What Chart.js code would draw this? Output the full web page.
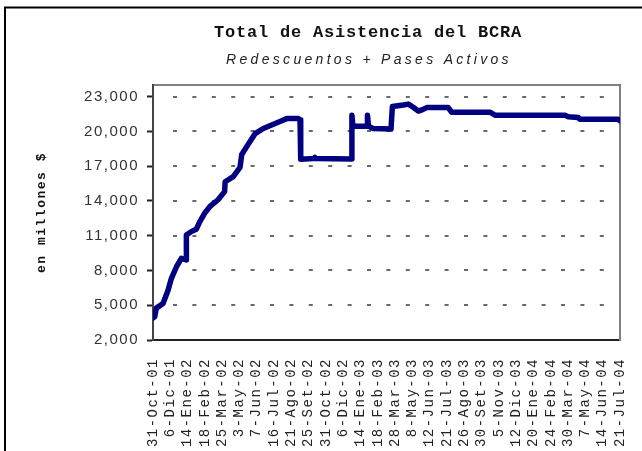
<!DOCTYPE html>
<html>
<head>
<meta charset="utf-8">
<script src="https://cdn.jsdelivr.net/npm/chart.js@4"></script>
<style>
  body { margin: 0; background: #fff; }
</style>
</head>
<body>
<canvas id="asistencia" width="642" height="451"></canvas>
<script>
// fechas que se muestran en el eje x (una cada ~25 dias habiles)
const tickLabels = ['31-Oct-01', '6-Dic-01', '14-Ene-02', '18-Feb-02', '25-Mar-02', '3-May-02', '7-Jun-02',
  '16-Jul-02', '21-Ago-02', '25-Set-02', '31-Oct-02', '6-Dic-02', '14-Ene-03', '18-Feb-03', '28-Mar-03',
  '8-May-03', '12-Jun-03', '21-Jul-03', '26-Ago-03', '30-Set-03', '5-Nov-03', '12-Dic-03', '20-Ene-04',
  '24-Feb-04', '30-Mar-04', '7-May-04', '14-Jun-04', '21-Jul-04'];

const yTicks = [2000, 5000, 8000, 11000, 14000, 17000, 20000, 23000];

// posicion en el eje (en intervalos de etiqueta) y saldo en millones de $
const xPos = [0, 0.1, 0.19, 0.58, 0.87, 1.06, 1.35, 1.64, 1.92, 1.93, 2.21, 2.5, 2.7, 2.99, 3.28,
  3.76, 4.14, 4.17, 4.64, 5.03, 5.13, 5.51, 5.9, 6.38, 6.86, 7.34, 7.73, 8.4, 8.5, 8.54,
  9.3, 9.36, 9.42, 11.49, 11.5, 11.56, 12.39, 12.4, 12.46, 12.72, 13.76, 13.84, 14.47, 14.76, 15.05,
  15.34, 15.62, 15.82, 17.07, 17.27, 19.48, 19.77, 23.82, 24.01, 24.58, 24.68, 26.9, 27];
const asistencia = [3900, 4000, 4750, 5150, 6300, 7300, 8300, 9050, 8900, 11050, 11350, 11550, 12200, 12950, 13500,
  14100, 14800, 15650, 16100, 16900, 18000, 18900, 19800, 20250, 20550, 20850, 21100, 21100, 21000, 17600,
  17650, 17750, 17650, 17620, 21400, 20450, 20450, 21400, 20450, 20250, 20200, 22150, 22280, 22350, 22080,
  21750, 21900, 22050, 22050, 21650, 21650, 21400, 21400, 21270, 21200, 21050, 21050, 20900];

const title = 'Total de Asistencia del BCRA';
const subtitle = 'Redescuentos + Pases Activos';

// espaciado de letras, marco, lineas de guia y titulos
const extras = {
  id: 'extras',
  beforeLayout(chart) { chart.ctx.letterSpacing = '1.5px'; },
  beforeDraw(chart) {
    const ctx = chart.ctx;
    ctx.letterSpacing = '1.5px';
    ctx.save();
    ctx.setLineDash([]);
    ctx.strokeStyle = '#000';
    ctx.lineWidth = 2;
    ctx.beginPath();
    ctx.moveTo(5, 451);
    ctx.lineTo(5, 7.5);
    ctx.lineTo(642, 7.5);
    ctx.stroke();
    ctx.restore();
  },
  beforeDatasetsDraw(chart) {
    const ctx = chart.ctx;
    const a = chart.chartArea;
    const y = chart.scales.y;
    ctx.save();
    ctx.lineWidth = 2;
    ctx.strokeStyle = '#6a6a6a';
    ctx.setLineDash([4, 15.4]);
    ctx.lineDashOffset = -15;
    yTicks.slice(1).forEach(v => {
      const py = Math.round(y.getPixelForValue(v));
      ctx.beginPath();
      ctx.moveTo(a.left + 5, py);
      ctx.lineTo(a.right - 4, py);
      ctx.stroke();
    });
    ctx.restore();
  },
  afterDraw(chart) {
    const ctx = chart.ctx;
    ctx.save();
    ctx.fillStyle = '#111';
    ctx.textAlign = 'center';
    ctx.textBaseline = 'middle';
    ctx.letterSpacing = '0.8px';
    ctx.font = 'bold 17px "Liberation Mono"';
    ctx.fillText(title, 368, 33);
    ctx.letterSpacing = '3.3px';
    ctx.font = 'italic 14px "Liberation Sans"';
    ctx.fillStyle = '#222';
    ctx.fillText(subtitle, 369, 60);
    ctx.restore();
  }
};

const ctx = document.getElementById('asistencia');

new Chart(ctx, {
  type: 'line',
  data: {
    datasets: [{
      data: xPos.map((x, i) => ({ x: x, y: asistencia[i] })),
      borderColor: '#000080',
      borderWidth: 5.5,
      pointRadius: 0,
      tension: 0,
      borderCapStyle: 'round',
      borderJoinStyle: 'round'
    }]
  },
  options: {
    responsive: false,
    animation: false,
    layout: { padding: { left: 0, top: 85, right: 22, bottom: 0 } },
    plugins: {
      legend: { display: false },
      tooltip: { enabled: false }
    },
    scales: {
      x: {
        type: 'linear',
        min: 0,
        max: 27,
        afterBuildTicks: axis => { axis.ticks = tickLabels.map((t, i) => ({ value: i })); },
        afterFit: axis => {
          axis.height = 111;
          axis.paddingLeft = 0;
          axis.paddingRight = 0;
        },
        ticks: {
          autoSkip: false,
          maxRotation: 90,
          minRotation: 90,
          padding: 10,
          color: '#222',
          font: { family: 'Liberation Mono', size: 14 },
          callback: v => tickLabels[v]
        },
        grid: { display: false },
        border: { color: '#222', width: 2 }
      },
      // ejes auxiliares: solo dibujan el recuadro gris superior y derecho
      xTop: {
        type: 'linear',
        position: 'top',
        min: 0,
        max: 27,
        ticks: { display: false },
        grid: { display: false, drawTicks: false },
        border: { color: '#808080', width: 2 },
        afterFit: axis => { axis.height = 0; axis.paddingLeft = 0; axis.paddingRight = 0; }
      },
      yRight: {
        type: 'linear',
        position: 'right',
        min: 2000,
        max: 24000,
        ticks: { display: false },
        grid: { display: false, drawTicks: false },
        border: { color: '#808080', width: 2 },
        afterFit: axis => { axis.width = 0; axis.paddingTop = 0; axis.paddingBottom = 0; }
      },
      y: {
        min: 2000,
        max: 24000,
        afterBuildTicks: axis => { axis.ticks = yTicks.map(v => ({ value: v })); },
        afterFit: axis => {
          axis.width = 153;
          axis.paddingTop = 0;
          axis.paddingBottom = 0;
        },
        ticks: {
          padding: 8,
          color: '#333',
          font: { family: 'Liberation Sans', size: 15 },
          callback: v => v.toLocaleString('en-US')
        },
        grid: {
          drawOnChartArea: false,
          drawTicks: true,
          tickLength: 6,
          tickWidth: 2,
          tickColor: '#222'
        },
        border: { color: '#444', width: 2 },
        title: {
          display: true,
          text: 'en millones $',
          color: '#111',
          padding: { top: 34 },
          font: { family: 'Liberation Mono', size: 13, weight: 'bold' }
        }
      }
    }
  },
  plugins: [extras]
});
</script>
</body>
</html>
